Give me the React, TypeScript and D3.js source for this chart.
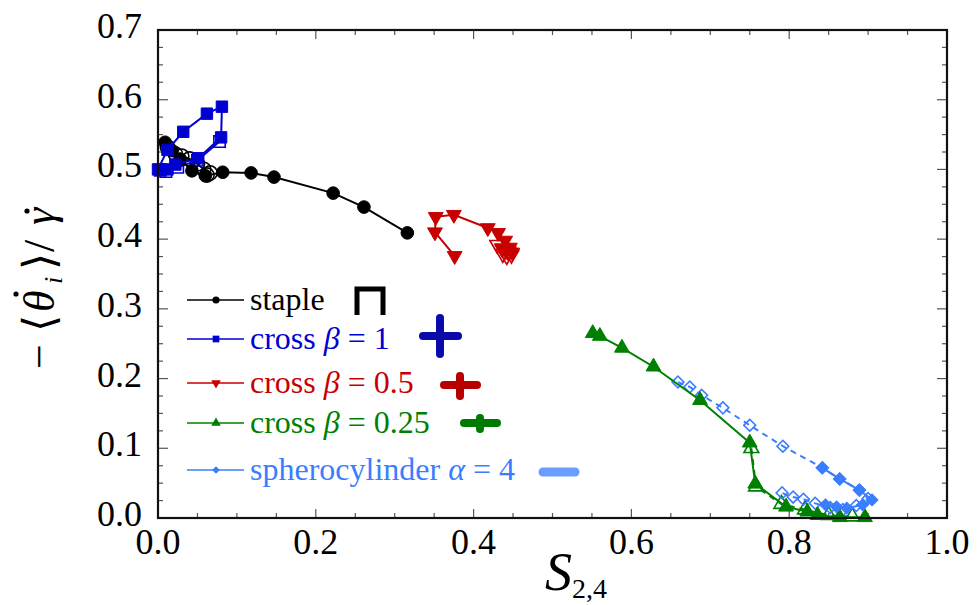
import React from "react";
import * as d3 from "d3";

// ---------- data ----------
const xTickValues = [0, 0.2, 0.4, 0.6, 0.8, 1.0];
const xTickLabels = ["0.0", "0.2", "0.4", "0.6", "0.8", "1.0"];
const yTickValues = [0, 0.1, 0.2, 0.3, 0.4, 0.5, 0.6, 0.7];
const yTickLabels = ["0.0", "0.1", "0.2", "0.3", "0.4", "0.5", "0.6", "0.7"];

// staple
const stapleFilledS = [0.009, 0.018, 0.028, 0.043, 0.060, 0.082, 0.118, 0.147, 0.222, 0.261, 0.316];
const stapleFilledT = [0.539, 0.527, 0.515, 0.498, 0.491, 0.496, 0.495, 0.489, 0.466, 0.446, 0.409];
const stapleOpenS = [0.012, 0.022, 0.030, 0.040, 0.050, 0.058, 0.066, 0.062];
const stapleOpenT = [0.532, 0.522, 0.519, 0.515, 0.508, 0.500, 0.495, 0.492];

// cross beta = 1
const cross1FilledS = [0.000, 0.012, 0.032, 0.062, 0.081, 0.080, 0.051, 0.022, 0.012];
const cross1FilledT = [0.500, 0.528, 0.554, 0.580, 0.590, 0.546, 0.516, 0.507, 0.500];
const cross1OpenS = [0.078, 0.050, 0.025, 0.010, 0.003];
const cross1OpenT = [0.540, 0.513, 0.503, 0.497, 0.499];

// cross beta = 0.5
const cross05FilledS = [0.376, 0.351, 0.352, 0.375, 0.418, 0.431, 0.440, 0.446, 0.449, 0.441, 0.436];
const cross05FilledT = [0.376, 0.410, 0.432, 0.435, 0.416, 0.409, 0.398, 0.388, 0.381, 0.383, 0.386];
const cross05OpenS = [0.430, 0.437, 0.444, 0.448, 0.442, 0.437];
const cross05OpenT = [0.392, 0.387, 0.382, 0.378, 0.376, 0.379];

// cross beta = 0.25
const cross025FilledS = [0.551, 0.560, 0.588, 0.628, 0.687, 0.750, 0.757, 0.796, 0.823, 0.836, 0.864, 0.896];
const cross025FilledT = [0.265, 0.261, 0.244, 0.217, 0.169, 0.108, 0.049, 0.016, 0.009, 0.004, 0.001, 0.001];
const cross025OpenS = [0.752, 0.758, 0.790, 0.820, 0.850, 0.880];
const cross025OpenT = [0.100, 0.045, 0.020, 0.012, 0.004, 0.002];

// spherocylinder alpha = 4
const sphereFilledS = [0.842, 0.864, 0.889, 0.905, 0.893, 0.873, 0.860, 0.846];
const sphereFilledT = [0.072, 0.056, 0.040, 0.026, 0.019, 0.014, 0.016, 0.019];
const sphereOpenS = [0.659, 0.674, 0.689, 0.716, 0.750, 0.792, 0.842, 0.864, 0.889, 0.900, 0.885, 0.868, 0.852, 0.833, 0.818, 0.805, 0.791];
const sphereOpenT = [0.195, 0.188, 0.176, 0.158, 0.133, 0.103, 0.072, 0.056, 0.040, 0.028, 0.018, 0.012, 0.015, 0.021, 0.027, 0.030, 0.036];

const legendLabels = ["staple", "cross", "cross", "cross", "spherocylinder"];

// ---------- layout ----------
const W = 978;
const H = 605;
const X0 = 158, X1 = 947, Y0 = 518, Y1 = 30;

const x = d3.scaleLinear().domain([0, 1]).range([X0, X1]);
const y = d3.scaleLinear().domain([0, 0.7]).range([Y0, Y1]);

type Series = {
  s: number[];
  t: number[];
  color: string;
  shape: "circle" | "square" | "down" | "up" | "diamond";
  filled: boolean;
  dashed: boolean;
  size: number;
};

const BLACK = "#000000";
const BLUE = "#0000d0";
const RED = "#c80000";
const GREEN = "#008000";
const LBLUE = "#3a7dff";

const openSeries: Series[] = [
  { s: stapleOpenS, t: stapleOpenT, color: BLACK, shape: "circle", filled: false, dashed: false, size: 160 },
  { s: cross1OpenS, t: cross1OpenT, color: BLUE, shape: "square", filled: false, dashed: false, size: 130 },
  { s: cross05OpenS, t: cross05OpenT, color: RED, shape: "down", filled: false, dashed: false, size: 95 },
  { s: cross025OpenS, t: cross025OpenT, color: GREEN, shape: "up", filled: false, dashed: true, size: 95 },
  { s: sphereOpenS, t: sphereOpenT, color: LBLUE, shape: "diamond", filled: false, dashed: true, size: 70 },
];
const filledSeries: Series[] = [
  { s: stapleFilledS, t: stapleFilledT, color: BLACK, shape: "circle", filled: true, dashed: false, size: 125 },
  { s: cross1FilledS, t: cross1FilledT, color: BLUE, shape: "square", filled: true, dashed: false, size: 130 },
  { s: cross05FilledS, t: cross05FilledT, color: RED, shape: "down", filled: true, dashed: false, size: 95 },
  { s: cross025FilledS, t: cross025FilledT, color: GREEN, shape: "up", filled: true, dashed: false, size: 95 },
  { s: sphereFilledS, t: sphereFilledT, color: LBLUE, shape: "diamond", filled: true, dashed: false, size: 70 },
];

function symPath(shape: Series["shape"], size: number): { d: string; rot: number } {
  switch (shape) {
    case "circle":
      return { d: d3.symbol(d3.symbolCircle, size)() as string, rot: 0 };
    case "square":
      return { d: d3.symbol(d3.symbolSquare, size)() as string, rot: 0 };
    case "down":
      return { d: d3.symbol(d3.symbolTriangle, size)() as string, rot: 180 };
    case "up":
      return { d: d3.symbol(d3.symbolTriangle, size)() as string, rot: 0 };
    case "diamond":
      return { d: d3.symbol(d3.symbolSquare, size)() as string, rot: 45 };
  }
}

const line = d3
  .line<[number, number]>()
  .x((d) => x(d[0]))
  .y((d) => y(d[1]));

function SeriesG({ sr }: { sr: Series }) {
  const pts: [number, number][] = sr.s.map((v, i) => [v, sr.t[i]]);
  const sym = symPath(sr.shape, sr.size);
  return (
    <g>
      <path
        d={line(pts) || ""}
        fill="none"
        stroke={sr.color}
        strokeWidth={2}
        strokeDasharray={sr.dashed ? "6,5" : undefined}
      />
      {pts.map((p, i) => (
        <path
          key={i}
          d={sym.d}
          transform={`translate(${x(p[0])},${y(p[1])}) rotate(${sym.rot})`}
          fill={sr.filled ? sr.color : "none"}
          stroke={sr.color}
          strokeWidth={sr.filled ? 1 : 1.6}
        />
      ))}
    </g>
  );
}

const serif = "'Liberation Serif', 'Times New Roman', 'DejaVu Serif', serif";

export default function App() {
  const xMinor = d3.range(0, 1.0001, 0.05);
  const yMinor = d3.range(0, 0.7001, 0.025);
  const isMajorX = (v: number) => Math.abs(v * 5 - Math.round(v * 5)) < 1e-6;
  const isMajorY = (v: number) => Math.abs(v * 10 - Math.round(v * 10)) < 1e-6;

  const legendRows = [
    { yy: 300, color: BLACK, shape: "circle" as const, size: 40 },
    { yy: 339, color: BLUE, shape: "square" as const, size: 45 },
    { yy: 383, color: RED, shape: "down" as const, size: 40 },
    { yy: 423, color: GREEN, shape: "up" as const, size: 40 },
    { yy: 470, color: LBLUE, shape: "diamond" as const, size: 30 },
  ];

  return (
    <svg
      width={W}
      height={H}
      style={{ position: "absolute", left: 0, top: 0, background: "#fff" }}
      fontFamily={serif}
    >
      <rect x={0} y={0} width={W} height={H} fill="#fff" />

      {/* ticks */}
      <g stroke="#555" strokeWidth={1.2}>
        {xMinor.map((v, i) => {
          const L = isMajorX(v) ? 9 : 5;
          return (
            <g key={"xt" + i}>
              <line x1={x(v)} x2={x(v)} y1={Y0} y2={Y0 - L} />
              <line x1={x(v)} x2={x(v)} y1={Y1} y2={Y1 + L} />
            </g>
          );
        })}
        {yMinor.map((v, i) => {
          const L = isMajorY(v) ? 10 : 5;
          return (
            <g key={"yt" + i}>
              <line x1={X0} x2={X0 + L} y1={y(v)} y2={y(v)} />
              <line x1={X1} x2={X1 - L} y1={y(v)} y2={y(v)} />
            </g>
          );
        })}
      </g>

      {/* data */}
      {openSeries.map((sr, i) => (
        <SeriesG key={"o" + i} sr={sr} />
      ))}
      {filledSeries.map((sr, i) => (
        <SeriesG key={"f" + i} sr={sr} />
      ))}

      {/* frame */}
      <rect x={X0} y={Y1} width={X1 - X0} height={Y0 - Y1} fill="none" stroke="#111" strokeWidth={2.2} />

      {/* tick labels */}
      <g fontSize={36} fill="#000">
        {xTickValues.map((v, i) => (
          <text key={"xl" + i} x={x(v)} y={Y0 + 36} textAnchor="middle">
            {xTickLabels[i]}
          </text>
        ))}
        {yTickValues.map((v, i) => (
          <text key={"yl" + i} x={X0 - 16} y={y(v) + 8} textAnchor="end">
            {yTickLabels[i]}
          </text>
        ))}
      </g>

      {/* x axis title */}
      <text x={545} y={590} fontSize={54} fill="#000">
        <tspan fontStyle="italic">S</tspan>
        <tspan fontSize={28} dy={8}>2,4</tspan>
      </text>

      {/* y axis title, rotated */}
      <g transform="translate(54,282) rotate(-90)" fill="#000" fontSize={44}>
        <text x={-87} y={0}>−</text>
        <text x={-50} y={0}>⟨</text>
        <text x={-30} y={0} fontStyle="italic">θ</text>
        <circle cx={-12} cy={-38} r={2.6} />
        <text x={-2} y={8} fontSize={26} fontStyle="italic">i</text>
        <text x={12} y={0}>⟩</text>
        <text x={30} y={0}>/</text>
        <text x={57} y={0} fontStyle="italic">γ</text>
        <circle cx={71} cy={-27} r={2.6} />
      </g>

      {/* legend */}
      <g>
        {legendRows.map((r, i) => {
          const sym = symPath(r.shape, r.size);
          return (
            <g key={"lg" + i}>
              <line x1={187} x2={244} y1={r.yy} y2={r.yy} stroke={r.color} strokeWidth={1.6} />
              <path
                d={sym.d}
                transform={`translate(216,${r.yy}) rotate(${sym.rot})`}
                fill={r.color}
              />
            </g>
          );
        })}
        <text x={250} y={310} fontSize={32} fill={BLACK}>{legendLabels[0]}</text>
        <text x={250} y={349} fontSize={32} fill={BLUE}>
          {legendLabels[1]} <tspan fontStyle="italic">β</tspan> = 1
        </text>
        <text x={250} y={393} fontSize={32} fill={RED}>
          {legendLabels[2]} <tspan fontStyle="italic">β</tspan> = 0.5
        </text>
        <text x={250} y={433} fontSize={32} fill={GREEN}>
          {legendLabels[3]} <tspan fontStyle="italic">β</tspan> = 0.25
        </text>
        <text x={250} y={480} fontSize={32} fill={LBLUE}>
          {legendLabels[4]} <tspan fontStyle="italic">α</tspan> = 4
        </text>

        {/* shape icons */}
        <path d="M357,315 V289 H383 V315" fill="none" stroke="#000" strokeWidth={5} />
        <g stroke="#0a0aa8" strokeWidth={8} strokeLinecap="round">
          <line x1={423} x2={458} y1={336} y2={336} />
          <line x1={440} x2={440} y1={318} y2={354} />
        </g>
        <g stroke="#b80000" strokeWidth={8} strokeLinecap="round">
          <line x1={444} x2={477} y1={385} y2={385} />
          <line x1={460} x2={460} y1={376} y2={396} />
        </g>
        <g stroke="#007a00" strokeWidth={8} strokeLinecap="round">
          <line x1={464} x2={497} y1={423} y2={423} />
          <line x1={480} x2={480} y1={418} y2={429} />
        </g>
        <line x1={543} x2={575} y1={472} y2={472} stroke="#6b9cff" strokeWidth={9} strokeLinecap="round" />
      </g>
    </svg>
  );
}
